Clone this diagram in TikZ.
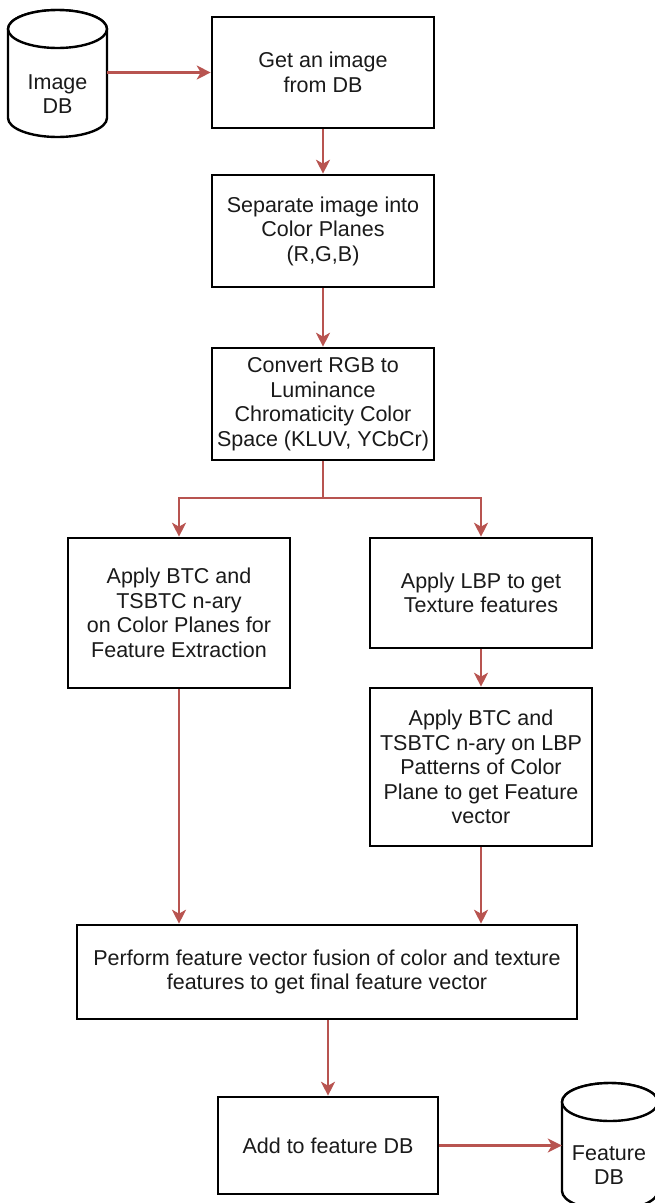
\documentclass[tikz,border=0pt]{standalone}
\usepackage{fontspec}
\setmainfont{Liberation Sans}
\usetikzlibrary{arrows.meta}
\definecolor{arrowred}{HTML}{B85450}
\definecolor{txt}{HTML}{1A1A1A}
\tikzset{
  procbox/.style={draw=black, line width=2.6pt, fill=white, rectangle, inner sep=0pt,
    align=center, text=txt, font=\fontsize{21.5}{24.5}\selectfont},
  cyl/.style={draw=black, line width=2.4pt, fill=white},
  cyltext/.style={align=center, text=txt, font=\fontsize{21.5}{24.5}\selectfont, inner sep=0pt},
  flow/.style={draw=arrowred, line width=2.2pt, -{Stealth[length=14pt,width=14pt,inset=4pt]}},
  anchorbox/.style={draw=none, rectangle, inner sep=0pt}
}
\begin{document}
\begin{tikzpicture}[x=1pt,y=1pt]
\useasboundingbox (0,0) rectangle (655,-1203);
\begin{scope}
\clip (0,0) rectangle (655,-1203);
% Image DB cylinder
\node[anchorbox, minimum width=99pt, minimum height=127pt] (imgdb) at (57.5,-73.5) {};
\path[cyl] (8,-29) -- (8,-118) arc[start angle=180, end angle=360, x radius=49.5, y radius=19] -- (107,-29) arc[start angle=0, end angle=180, x radius=49.5, y radius=19] -- cycle;
\draw[cyl] (57.5,-29) ellipse [x radius=49.5, y radius=19];
\node[cyltext] (imgdbt) at (57.5,-94) {Image\\DB};
% Feature DB cylinder
\node[anchorbox, minimum width=96pt, minimum height=127pt] (fdb) at (610,-1146.5) {};
\path[cyl] (562,-1102) -- (562,-1191) arc[start angle=180, end angle=360, x radius=48, y radius=19] -- (658,-1102) arc[start angle=0, end angle=180, x radius=48, y radius=19] -- cycle;
\draw[cyl] (610,-1102) ellipse [x radius=48, y radius=19];
\node[cyltext] (fdbt) at (609,-1165) {Feature\\DB};
\end{scope}
% process boxes
\node[procbox, minimum width=222pt, minimum height=111pt] (b1) at (323,-72.5) {Get an image\\from DB};
\node[procbox, minimum width=222pt, minimum height=112pt] (b2) at (323,-231) {Separate image into\\Color Planes\\(R,G,B)};
\node[procbox, minimum width=222pt, minimum height=112pt] (b3) at (323,-404) {Convert RGB to\\Luminance\\Chromaticity Color\\Space (KLUV, YCbCr)};
\node[procbox, minimum width=222pt, minimum height=150pt] (lbox) at (179,-613) {Apply BTC and\\TSBTC n-ary\\on Color Planes for\\Feature Extraction};
\node[procbox, minimum width=222pt, minimum height=110pt] (r1) at (481,-593) {Apply LBP to get\\Texture features};
\node[procbox, minimum width=222pt, minimum height=158pt] (r2) at (481,-767) {Apply BTC and\\TSBTC n-ary on LBP\\Patterns of Color\\Plane to get Feature\\vector};
\node[procbox, minimum width=500pt, minimum height=94pt] (bot) at (327,-972) {Perform feature vector fusion of color and texture\\features to get final feature vector};
\node[procbox, minimum width=220pt, minimum height=97pt] (fin) at (328,-1145.5) {Add to feature DB};
\coordinate (split) at (323,-498);
% connectors
\draw[flow] (imgdb.east |- b1.west) -- (b1.west);
\draw[flow] (b1.south) -- (b2.north);
\draw[flow] (b2.south) -- (b3.north);
\draw[flow] (b3.south) -- (split) -| (lbox.north);
\draw[flow] (split) -| (r1.north);
\draw[flow] (r1.south) -- (r2.north);
\draw[flow] (lbox.south) -- (lbox.south |- bot.north);
\draw[flow] (r2.south) -- (r2.south |- bot.north);
\draw[flow] (bot.south -| fin.north) -- (fin.north);
\draw[flow] (fin.east) -- (fdb.west |- fin.east);
\end{tikzpicture}
\end{document}
